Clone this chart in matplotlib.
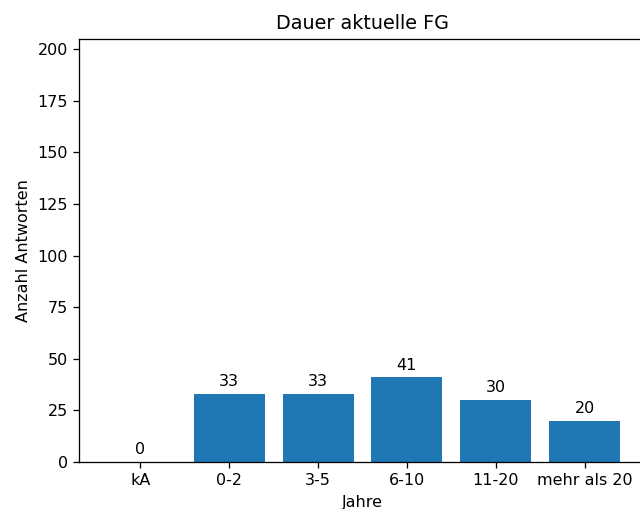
import matplotlib
matplotlib.use("Agg")
import matplotlib.pyplot as plt

categories = ["kA", "0-2", "3-5", "6-10", "11-20", "mehr als 20"]
values = [0, 33, 33, 41, 30, 20]

s = 1.15
plt.rcParams.update({
    "font.size": 10 * s,
    "axes.titlesize": 12 * s,
    "axes.labelsize": 10 * s,
    "xtick.labelsize": 10 * s,
    "ytick.labelsize": 10 * s,
    "axes.linewidth": 0.8 * s,
    "xtick.major.size": 3.5 * s,
    "ytick.major.size": 3.5 * s,
    "xtick.major.width": 0.8 * s,
    "ytick.major.width": 0.8 * s,
    "xtick.major.pad": 3.5 * s,
    "ytick.major.pad": 3.5 * s,
    "axes.labelpad": 4 * s,
    "axes.titlepad": 6 * s,
})

fig = plt.figure(figsize=(6.4, 5.09), dpi=100)
ax = fig.add_axes([79/640, 47/509, 567/640, 423/509])
bars = ax.bar(categories, values, color="#1f77b4", width=0.8)
ax.bar_label(bars, padding=3 * s)
ax.set_ylim(0, 205)
ax.set_yticks(range(0, 201, 25))
ax.set_title("Dauer aktuelle FG")
ax.set_xlabel("Jahre")
ax.set_ylabel("Anzahl Antworten")
fig.savefig("out.png", dpi=100)
